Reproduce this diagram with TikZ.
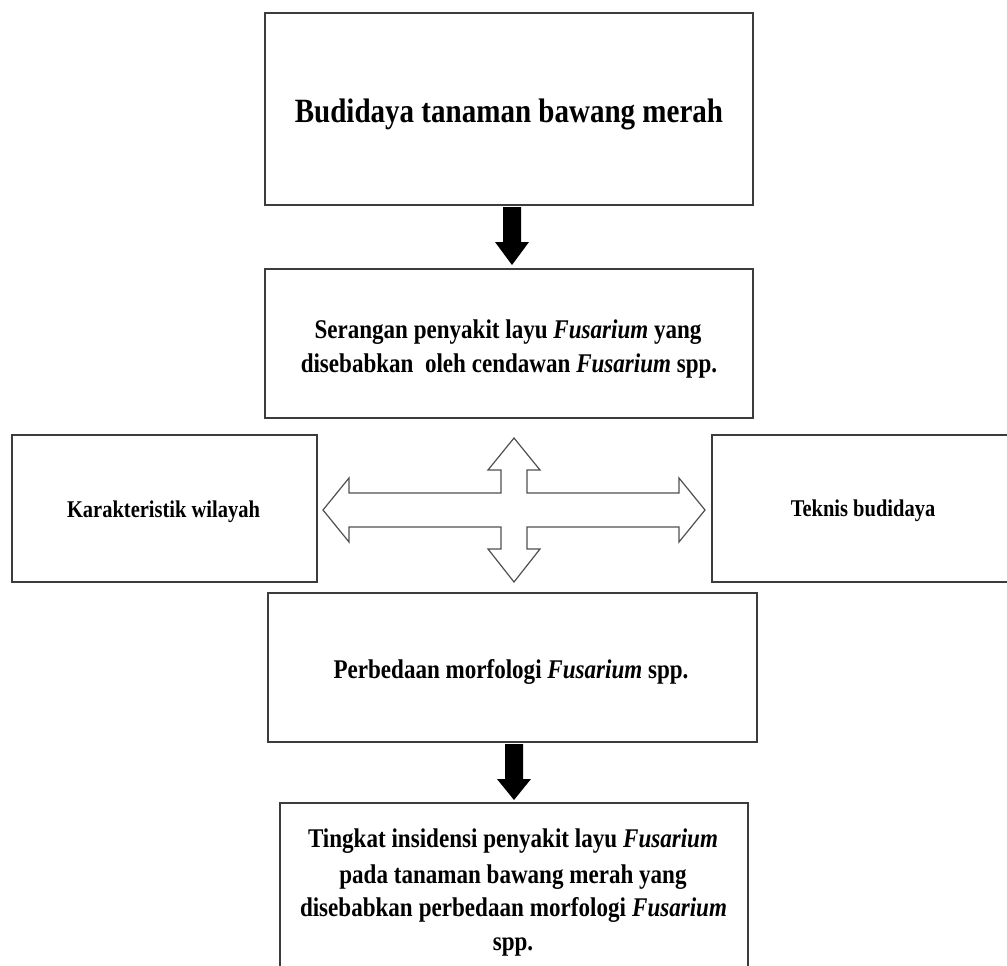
\documentclass[tikz,border=0pt]{standalone}
\usepackage{fontspec}
\setmainfont{Liberation Serif}[FakeStretch=0.854]
\usetikzlibrary{calc}
\definecolor{boxgray}{HTML}{3C3C3C}
\definecolor{arrgray}{HTML}{505050}
\begin{document}
\begin{tikzpicture}[x=1pt,y=-1pt,
  box/.style={draw=boxgray,line width=1.5pt,inner sep=0pt,outer sep=0pt,fill=white},
  lbl/.style={anchor=base,inner sep=0pt,outer sep=0pt,font=\bfseries\fontsize{27}{32}\selectfont},
  biglbl/.style={lbl,font=\bfseries\fontsize{34}{40}\selectfont},
  sidelbl/.style={lbl,font=\bfseries\fontsize{24}{28}\selectfont},
  blockarrow/.style={fill=black,draw=none},
  crossarrow/.style={draw=arrgray,line width=1.2pt,fill=white,line join=miter}]
\useasboundingbox (0,0) rectangle (1007,966);
\clip (0,0) rectangle (1007,966);
\fill[white] (0,0) rectangle (1007,966);
% boxes
\node[box,minimum width=488pt,minimum height=192pt] (b1) at (509,109) {};
\node[box,minimum width=488pt,minimum height=149pt] (b2) at (509,343.5) {};
\node[box,minimum width=305pt,minimum height=147pt] (bl) at (164.5,508.5) {};
\node[box,minimum width=305pt,minimum height=147pt] (br) at (864.5,508.5) {};
\node[box,minimum width=489pt,minimum height=149pt] (b4) at (512.5,667.5) {};
\node[box,minimum width=468pt,minimum height=187pt] (b5) at (514,896.5) {};
% texts
\node[biglbl] (t1) at (509,122.7) {Budidaya tanaman bawang merah};
\node[lbl] (t2a) at (508,338) {Serangan penyakit layu \textit{Fusarium} yang};
\node[lbl] (t2b) at (509,372) {disebabkan\ \ oleh cendawan \textit{Fusarium} spp.};
\node[sidelbl] (tl) at (163.5,517.7) {Karakteristik wilayah};
\node[sidelbl] (tr) at (863,516.7) {Teknis budidaya};
\node[lbl] (t4) at (511,678) {Perbedaan morfologi \textit{Fusarium} spp.};
\node[lbl] (t5a) at (513,847) {\makebox[410pt][s]{Tingkat insidensi penyakit layu \textit{Fusarium}}};
\node[lbl] (t5b) at (513,883) {pada tanaman bawang merah yang};
\node[lbl] (t5c) at (513.5,916) {\makebox[427pt][s]{disebabkan perbedaan morfologi \textit{Fusarium}}};
\node[lbl] (t5d) at (513,950) {spp.};
% black block arrows
\coordinate (a1s) at ($(b1.south)+(3,2)$);
\coordinate (a1e) at ($(b2.north)+(3,-4)$);
\fill[blockarrow] ($(a1s)+(-9,0)$) -- ($(a1s)+(9,0)$) -- ($(a1e)+(9,-23)$) -- ($(a1e)+(17,-23)$)
  -- (a1e) -- ($(a1e)+(-17,-23)$) -- ($(a1e)+(-9,-23)$) -- cycle;
\coordinate (a2s) at ($(b4.south)+(1.5,2)$);
\coordinate (a2e) at ($(b5.north)+(0,-3)$);
\fill[blockarrow] ($(a2s)+(-9,0)$) -- ($(a2s)+(9,0)$) -- ($(a2e)+(9,-21)$) -- ($(a2e)+(17,-21)$)
  -- (a2e) -- ($(a2e)+(-17,-21)$) -- ($(a2e)+(-9,-21)$) -- cycle;
% four-way outline arrow
\coordinate (c) at (514,510);
\draw[crossarrow]
  ($(c)+(0,-72)$) -- ($(c)+(26,-40)$) -- ($(c)+(13,-40)$) -- ($(c)+(13,-17)$)
  -- ($(c)+(165,-17)$) -- ($(c)+(165,-32)$) -- ($(c)+(191,0)$) -- ($(c)+(165,32)$)
  -- ($(c)+(165,17)$) -- ($(c)+(13,17)$) -- ($(c)+(13,39)$) -- ($(c)+(26,39)$)
  -- ($(c)+(0,72)$) -- ($(c)+(-26,39)$) -- ($(c)+(-13,39)$) -- ($(c)+(-13,17)$)
  -- ($(c)+(-165,17)$) -- ($(c)+(-165,32)$) -- ($(c)+(-191,0)$) -- ($(c)+(-165,-32)$)
  -- ($(c)+(-165,-17)$) -- ($(c)+(-13,-17)$) -- ($(c)+(-13,-40)$) -- ($(c)+(-26,-40)$)
  -- cycle;
\end{tikzpicture}
\end{document}
